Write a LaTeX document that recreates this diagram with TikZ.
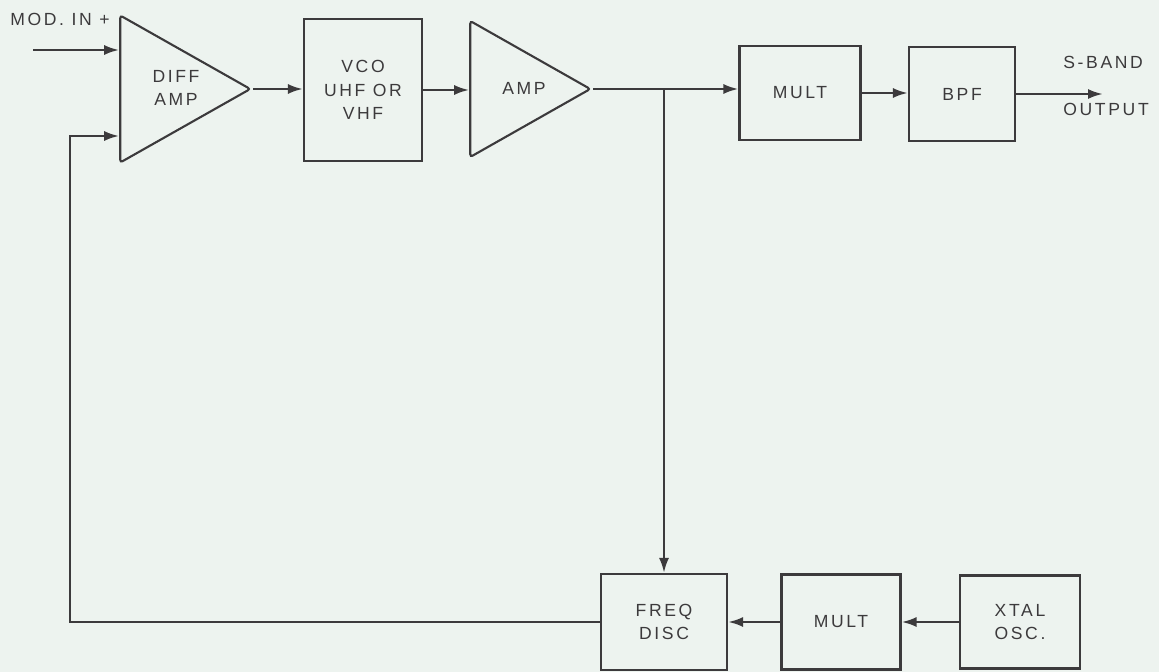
\documentclass[tikz,border=0pt]{standalone}
\usepackage{fontspec}
\setmainfont[LetterSpace=15]{Liberation Sans}
\usetikzlibrary{arrows.meta, positioning, shapes.geometric}
\definecolor{papel}{RGB}{237,243,239}
\definecolor{tinta}{RGB}{60,58,60}
\newcommand{\txtsz}{\fontsize{10}{13.2}\selectfont}

\begin{document}
\begin{tikzpicture}[x=0.02cm, y=-0.02cm,
      blk/.style={draw=tinta, line width=1.2pt, inner sep=0pt,
                  align=center, font=\txtsz, text=tinta},
      ampl/.style={draw=tinta, line width=1.2pt, isosceles triangle,
                   isosceles triangle stretches, shape border rotate=0,
                   inner sep=0pt, rounded corners=1.5pt},
      lbl/.style={font=\txtsz, text=tinta, inner sep=0pt, align=center},
      wire/.style={draw=tinta, line width=1.4pt},
      >={Latex[length=0.3cm, width=0.2cm]}]
    \path[use as bounding box, fill=papel] (0,0) rectangle (1159,672);
    % forward chain
    \node[ampl, minimum height=2.6cm, minimum width=2.94cm, anchor=apex]
      (diff) at (253,89) {};
    \node[lbl] (difftxt) at (176,88) {DIFF\\AMP};
    \node[blk, minimum width=2.36cm, minimum height=2.84cm] (vco) at (363,90)
      {VCO\\UHF OR\\VHF};
    \node[ampl, minimum height=2.4cm, minimum width=2.72cm, anchor=apex]
      (amp) at (593,89) {};
    \node[lbl] (amptxt) at (524,88) {AMP};
    \node[blk, minimum width=2.42cm, minimum height=1.88cm] (mult) at (800,93) {MULT};
    \node[blk, minimum width=2.12cm, minimum height=1.88cm] (bpf) at (962,94) {BPF};
    % reference loop
    \node[blk, minimum width=2.52cm, minimum height=1.92cm] (fdisc) at (664,622)
      {FREQ\\DISC};
    \node[blk, minimum width=2.38cm, minimum height=1.9cm] (mult2) at (841,622) {MULT};
    \node[blk, minimum width=2.4cm, minimum height=1.86cm] (xtal) at (1020,622)
      {XTAL\\OSC.};
    % labels
    \coordinate (modin) at (33,50);
    \node[lbl, anchor=west] (modlbl) at (10,19) {MOD. IN +};
    \coordinate (sout) at (1103,94);
    \node[lbl, anchor=west] (sband) at (1063,62) {S-BAND};
    \node[lbl, anchor=west] (outlbl) at (1063,109) {OUTPUT};
    \coordinate (fbk) at (70,136);
    \coordinate (tap) at (amp.apex -| fdisc.north);
    % connectors
    \draw[wire, ->] (modin) -- (diff.lower side |- modin);
    \draw[wire, ->] (diff.apex) -- (diff.apex -| vco.west);
    \draw[wire, ->] (vco.east) -- (vco.east -| amp.lower side);
    \draw[wire, ->] (amp.apex) -- (amp.apex -| mult.west);
    \draw[wire, ->] (mult.east) -- (mult.east -| bpf.west);
    \draw[wire, ->] (bpf.east) -- (sout);
    \draw[wire, ->] (tap) -- (fdisc.north);
    \draw[wire, ->] (xtal.west) -- (mult2.east);
    \draw[wire, ->] (mult2.west) -- (fdisc.east);
    \draw[wire, ->] (fdisc.west) -| (fbk) -- (diff.lower side |- fbk);
\end{tikzpicture}
\end{document}
